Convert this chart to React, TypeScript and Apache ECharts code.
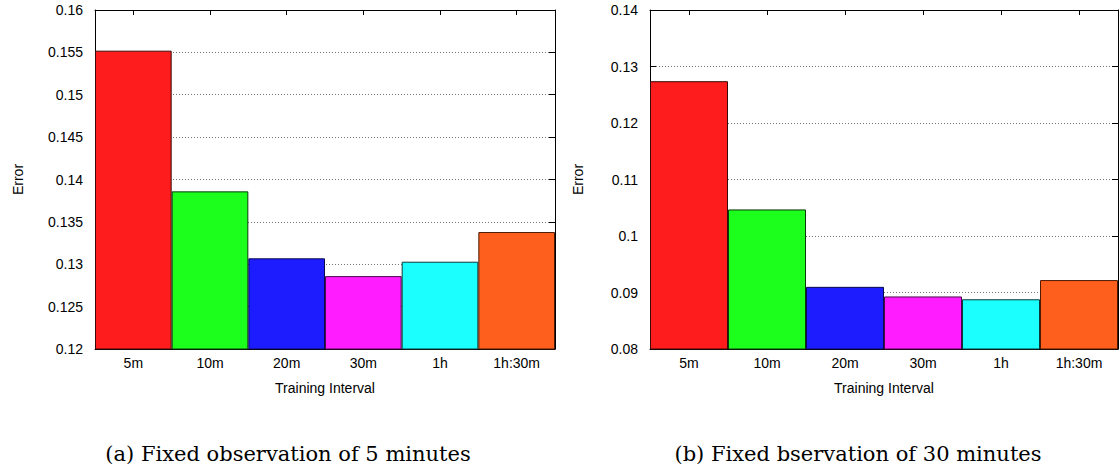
import React, { useEffect, useRef } from "react";
import * as echarts from "echarts";

const categories = ["5m", "10m", "20m", "30m", "1h", "1h:30m"];
const errorFixed5m = [0.1552, 0.1386, 0.1307, 0.1286, 0.1303, 0.1338];
const errorFixed30m = [0.1274, 0.1047, 0.091, 0.0893, 0.0888, 0.0922];
const barColors = ["#FF1C1C", "#1CFF1C", "#1C1CFF", "#FF1CFF", "#1CFFFF", "#FF5F1C"];
const borderColors = ["#3a0a0a", "#0a3a0a", "#0a0a50", "#4a0a4a", "#0a3a3a", "#4a1a05"];
const ticksLeft = ["0.12", "0.125", "0.13", "0.135", "0.14", "0.145", "0.15", "0.155", "0.16"];
const ticksRight = ["0.08", "0.09", "0.1", "0.11", "0.12", "0.13", "0.14"];
const captionA = "(a) Fixed observation of 5 minutes";
const captionB = "(b) Fixed bservation of 30 minutes";
const xName = "Training Interval";
const yName = "Error";

const FONT = "Liberation Sans";

function fmt(ticks: string[]) {
  return (v: number) => {
    let best = ticks[0];
    let bd = Infinity;
    for (const t of ticks) {
      const d = Math.abs(parseFloat(t) - v);
      if (d < bd) {
        bd = d;
        best = t;
      }
    }
    return best;
  };
}

export default function App() {
  const ref = useRef<HTMLDivElement>(null);
  useEffect(() => {
    document.body.style.margin = "0";
    const chart = echarts.init(ref.current!, undefined, { renderer: "svg" });
    const grids = [
      { left: 95, width: 460, top: 10, height: 339 },
      { left: 650, width: 468, top: 10, height: 339 },
    ];
    const tickDefs = [ticksLeft, ticksRight];
    const dataSets = [errorFixed5m, errorFixed30m];
    const nameGaps = [70, 65];

    const xAxis: any[] = [];
    const yAxis: any[] = [];
    const series: any[] = [];
    grids.forEach((g, i) => {
      const ticks = tickDefs[i];
      const tmin = parseFloat(ticks[0]);
      const tmax = parseFloat(ticks[ticks.length - 1]);
      const interval = parseFloat(ticks[1]) - tmin;
      xAxis.push({
        type: "category",
        gridIndex: i,
        data: categories,
        position: "bottom",
        name: xName,
        nameLocation: "middle",
        nameGap: 32,
        nameTextStyle: { fontFamily: FONT, fontSize: 14, color: "#000" },
        axisLine: { show: true, lineStyle: { color: "#000", width: 1 } },
        axisTick: { show: true, inside: true, alignWithLabel: true, length: 6, lineStyle: { color: "#000" } },
        axisLabel: { fontFamily: FONT, fontSize: 14, color: "#000", margin: 7 },
        z: 1,
      });
      xAxis.push({
        type: "category",
        gridIndex: i,
        data: categories,
        position: "top",
        axisLine: { show: true, lineStyle: { color: "#000", width: 1 } },
        axisTick: { show: true, inside: true, alignWithLabel: true, length: 5, lineStyle: { color: "#000" } },
        axisLabel: { show: false },
      });
      yAxis.push({
        type: "value",
        gridIndex: i,
        min: tmin,
        max: tmax,
        interval: interval,
        position: "left",
        name: yName,
        nameLocation: "middle",
        nameGap: nameGaps[i],
        nameRotate: 90,
        nameTextStyle: { fontFamily: FONT, fontSize: 14, color: "#000" },
        axisLine: { show: true, lineStyle: { color: "#000", width: 1 } },
        axisTick: { show: true, inside: true, length: 6, lineStyle: { color: "#000" } },
        axisLabel: { fontFamily: FONT, fontSize: 14, color: "#000", margin: 12, formatter: fmt(ticks) },
        splitLine: { show: true, lineStyle: { color: "#777", type: [1, 2], width: 1 } },
      });
      yAxis.push({
        type: "value",
        gridIndex: i,
        min: tmin,
        max: tmax,
        interval: interval,
        position: "right",
        axisLine: { show: true, lineStyle: { color: "#000", width: 1 } },
        axisTick: { show: true, inside: true, length: 6, lineStyle: { color: "#000" } },
        axisLabel: { show: false },
        splitLine: { show: false },
      });
      series.push({
        type: "bar",
        xAxisIndex: i * 2,
        yAxisIndex: i * 2,
        barWidth: "100%",
        barCategoryGap: "0%",
        z: 3,
        data: dataSets[i].map((v, k) => ({
          value: v,
          itemStyle: { color: barColors[k], borderColor: borderColors[k], borderWidth: 1 },
        })),
      });
    });

    chart.setOption({
      animation: false,
      backgroundColor: "#fff",
      grid: grids.map((g) => ({ ...g, containLabel: false })),
      xAxis,
      yAxis,
      series,
      graphic: [
        {
          type: "text",
          x: 288,
          y: 454,
          style: {
            text: captionA,
            font: "21px 'DejaVu Serif'",
            fill: "#000",
            textAlign: "center",
            textVerticalAlign: "middle",
          },
        },
        {
          type: "text",
          x: 858,
          y: 454,
          style: {
            text: captionB,
            font: "21px 'DejaVu Serif'",
            fill: "#000",
            textAlign: "center",
            textVerticalAlign: "middle",
          },
        },
      ],
    });
    return () => chart.dispose();
  }, []);
  return <div ref={ref} style={{ width: 1119, height: 471 }} />;
}
